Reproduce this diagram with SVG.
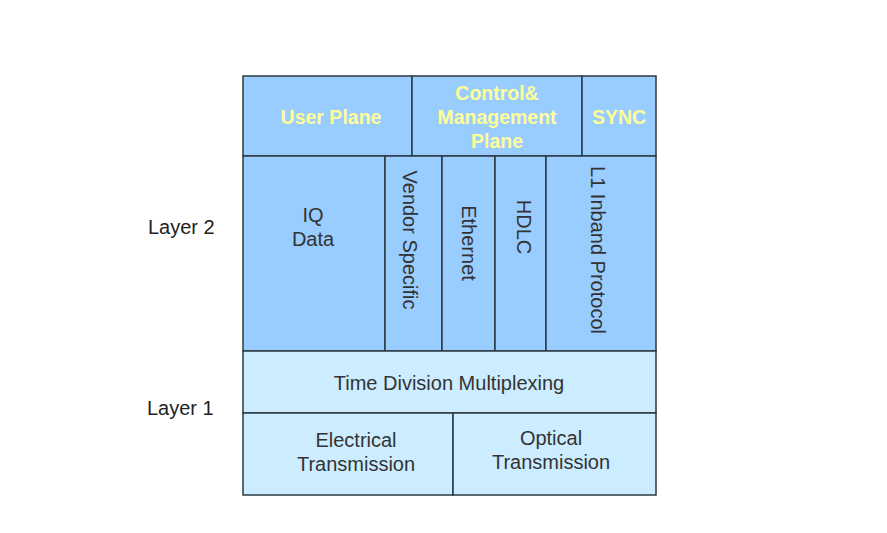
<svg xmlns="http://www.w3.org/2000/svg" width="887" height="533" viewBox="0 0 887 533">
<style>
.bg{fill:#ffffff}
.up{fill:#99ccff;stroke:#2b3a42;stroke-width:1.5}
.lo{fill:#ccecff;stroke:#2b3a42;stroke-width:1.5}
.t{font-family:"Liberation Sans",Arial,sans-serif;font-size:20px;fill:#333333;text-anchor:middle}
.y{font-family:"Liberation Sans",Arial,sans-serif;font-size:19.5px;font-weight:bold;fill:#ffff99;text-anchor:middle}
.l{font-family:"Liberation Sans",Arial,sans-serif;font-size:20px;fill:#222222}
.v{dominant-baseline:central}
</style>
<rect class="bg" x="0" y="0" width="887" height="533"/>
<g id="user-plane"><rect class="up" x="243" y="76" width="169" height="80"/><text class="y" x="331" y="124">User Plane</text></g>
<g id="control-plane"><rect class="up" x="412" y="76" width="170" height="80"/><text class="y" x="497" y="100">Control&amp;</text><text class="y" x="497" y="124">Management</text><text class="y" x="497" y="148">Plane</text></g>
<g id="sync"><rect class="up" x="582" y="76" width="74" height="80"/><text class="y" x="619" y="124">SYNC</text></g>
<g id="iq-data"><rect class="up" x="243" y="156" width="142" height="195"/><text class="t" x="313" y="222">IQ</text><text class="t" x="313" y="246">Data</text></g>
<g id="vendor-specific"><rect class="up" x="385" y="156" width="57" height="195"/><text class="t v" transform="translate(410,240) rotate(90)">Vendor Specific</text></g>
<g id="ethernet"><rect class="up" x="442" y="156" width="53" height="195"/><text class="t v" transform="translate(469,243) rotate(90)">Ethernet</text></g>
<g id="hdlc"><rect class="up" x="495" y="156" width="51" height="195"/><text class="t v" transform="translate(524,227) rotate(90)">HDLC</text></g>
<g id="l1-inband"><rect class="up" x="546" y="156" width="110" height="195"/><text class="t v" transform="translate(598,250) rotate(90)">L1 Inband Protocol</text></g>
<g id="tdm"><rect class="lo" x="243" y="351" width="413" height="62"/><text class="t" x="449" y="390">Time Division Multiplexing</text></g>
<g id="electrical"><rect class="lo" x="243" y="413" width="210" height="82"/><text class="t" x="356" y="447">Electrical</text><text class="t" x="356" y="471">Transmission</text></g>
<g id="optical"><rect class="lo" x="453" y="413" width="203" height="82"/><text class="t" x="551" y="445">Optical</text><text class="t" x="551" y="469">Transmission</text></g>
<g id="layer-labels"><text class="l" x="148" y="234">Layer 2</text><text class="l" x="147" y="415">Layer 1</text></g>
<g id="connectors"></g>
</svg>
